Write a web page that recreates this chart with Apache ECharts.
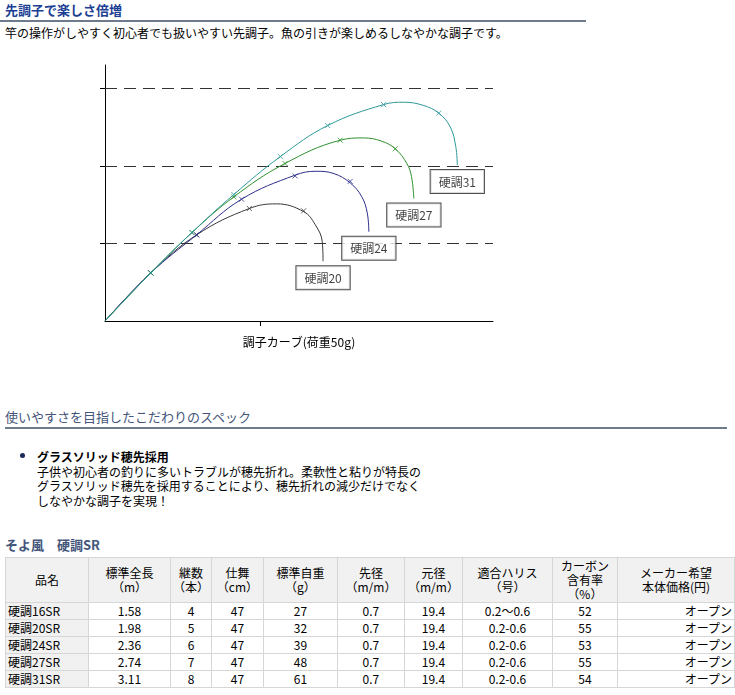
<!DOCTYPE html>
<html>
<head>
<meta charset="utf-8">
<script src="https://cdn.jsdelivr.net/npm/echarts@6/dist/echarts.min.js"></script>
<style>
  body { margin: 0; background: #fff; font-family: "Noto Sans CJK JP", sans-serif; font-size: 12px; color: #000; }
  .abs { position: absolute; white-space: nowrap; }
  #chart { position: absolute; left: 0; top: 0; width: 735px; height: 370px; }
  .h1 { left: 5px; top: 2px; font-size: 13px; font-weight: bold; color: #1c3f94; line-height: 16px; }
  .rule { height: 2px; background: #6d7b8d; }
  .h2 { font-size: 13px; color: #44557a; line-height: 16px; }
  table { position: absolute; left: 5px; top: 557px; border-collapse: collapse; table-layout: fixed; font-size: 12px; }
  td, th { border: 1px solid #d6d6d6; padding: 0 2px; font-weight: normal; }
  th { background: #f1f1f1; height: 44px; line-height: 14px; text-align: center; }
  td { height: 16px; line-height: 16px; text-align: center; }
  td.nm { text-align: left; background: #f1f1f1; }
  td.pr { text-align: right; }
</style>
</head>
<body>
<div class="abs h1">先調子で楽しさ倍増</div>
<div class="abs rule" style="left:0;top:20px;width:586px;"></div>
<div class="abs" style="left:5px;top:25px;line-height:16px;">竿の操作がしやすく初心者でも扱いやすい先調子。魚の引きが楽しめるしなやかな調子です。</div>

<div id="chart"></div>

<div class="abs h2" style="left:5px;top:409px;">使いやすさを目指したこだわりのスペック</div>
<div class="abs rule" style="left:5px;top:427px;width:722px;"></div>

<div class="abs" style="left:20px;top:453px;width:5px;height:5px;border-radius:3px;background:#1c2a5a;"></div>
<div class="abs" style="left:37px;top:450px;line-height:14.5px;">
  <b>グラスソリッド穂先採用</b><br>
  子供や初心者の釣りに多いトラブルが穂先折れ。柔軟性と粘りが特長の<br>
  グラスソリッド穂先を採用することにより、穂先折れの減少だけでなく<br>
  しなやかな調子を実現！
</div>

<div class="abs h2" style="left:5px;top:537px;font-weight:bold;">そよ風　硬調SR</div>
<table id="spec">
  <colgroup>
    <col style="width:83px"><col style="width:82px"><col style="width:34px"><col style="width:52px"><col style="width:74px">
    <col style="width:67px"><col style="width:58px"><col style="width:90px"><col style="width:65px"><col style="width:117px">
  </colgroup>
</table>

<script>
// curve points (x, y in grid units, 1 unit = one dashed-line step)
var curve20 = [[0, 0], [0.59, 0.62], [1.18, 1.11], [1.86, 1.45], [2.21, 1.51], [2.56, 1.41], [2.71, 1.24], [2.80, 1.02], [2.81, 0.77]];
var curve24 = [[0, 0], [0.59, 0.62], [1.18, 1.11], [1.76, 1.57], [2.45, 1.88], [2.72, 1.93], [2.95, 1.90], [3.16, 1.78], [3.31, 1.60], [3.38, 1.39], [3.40, 1.15]];
var curve27 = [[0, 0], [0.59, 0.62], [1.12, 1.14], [1.66, 1.60], [2.30, 2.02], [3.03, 2.33], [3.33, 2.36], [3.56, 2.32], [3.74, 2.22], [3.89, 2.03], [3.95, 1.86], [3.98, 1.58]];
var curve31 = [[0, 0], [0.59, 0.62], [1.12, 1.14], [1.66, 1.63], [2.26, 2.12], [2.87, 2.52], [3.59, 2.79], [3.85, 2.82], [4.10, 2.78], [4.30, 2.68], [4.45, 2.50], [4.52, 2.25], [4.54, 2.01]];

// x marks along each curve
var marks20 = [[0.59, 0.62], [1.18, 1.11], [1.86, 1.45], [2.56, 1.42]];
var marks24 = [[0.59, 0.62], [1.18, 1.11], [1.76, 1.57], [2.45, 1.87], [3.16, 1.80]];
var marks27 = [[0.59, 0.62], [1.12, 1.14], [1.66, 1.60], [2.32, 2.03], [3.03, 2.33], [3.74, 2.22]];
var marks31 = [[0.59, 0.62], [1.12, 1.14], [1.66, 1.63], [2.26, 2.12], [2.87, 2.52], [3.59, 2.79], [4.30, 2.68]];

var curveNames = ['硬調20', '硬調24', '硬調27', '硬調31'];
var curveColors = ['#3a3a3a', '#2e2e8a', '#2f8f2f', '#2e9898'];
var gridLevels = [1, 2, 3];
var xTicks = [2];
var xName = '調子カーブ(荷重50g)';

// spec table
var specHead = ['品名', '標準全長<br>（m）', '継数<br>（本）', '仕舞<br>（cm）', '標準自重<br>（g）', '先径<br>（m/m）', '元径<br>（m/m）', '適合ハリス<br>（号）', 'カーボン<br>含有率<br>（%）', 'メーカー希望<br>本体価格(円)'];
var specName = ['硬調16SR', '硬調20SR', '硬調24SR', '硬調27SR', '硬調31SR'];
var specLength = ['1.58', '1.98', '2.36', '2.74', '3.11'];
var specPieces = ['4', '5', '6', '7', '8'];
var specClosed = ['47', '47', '47', '47', '47'];
var specWeight = ['27', '32', '39', '48', '61'];
var specTip = ['0.7', '0.7', '0.7', '0.7', '0.7'];
var specButt = ['19.4', '19.4', '19.4', '19.4', '19.4'];
var specLine = ['0.2〜0.6', '0.2-0.6', '0.2-0.6', '0.2-0.6', '0.2-0.6'];
var specCarbon = ['52', '55', '53', '55', '54'];
var specPrice = ['オープン', 'オープン', 'オープン', 'オープン', 'オープン'];

var tbl = document.getElementById('spec');
var html = '<tr>' + specHead.map(function (h) { return '<th>' + h + '</th>'; }).join('') + '</tr>';
specName.forEach(function (n, i) {
    html += '<tr><td class="nm">' + n + '</td><td>' + specLength[i] + '</td><td>' + specPieces[i] + '</td><td>' + specClosed[i] +
        '</td><td>' + specWeight[i] + '</td><td>' + specTip[i] + '</td><td>' + specButt[i] + '</td><td>' + specLine[i] +
        '</td><td>' + specCarbon[i] + '</td><td class="pr">' + specPrice[i] + '</td></tr>';
});
tbl.insertAdjacentHTML('beforeend', html);

var curves = [curve20, curve24, curve27, curve31];
var marks = [marks20, marks24, marks27, marks31];

var chart = echarts.init(document.getElementById('chart'));

var series = [];
curves.forEach(function (c, i) {
    series.push({
        type: 'line',
        name: curveNames[i],
        data: c,
        smooth: 0.4,
        showSymbol: false,
        z: 3 + i,
        lineStyle: { color: curveColors[i], width: 1 },
        markLine: i === 0 ? {
            silent: true,
            symbol: 'none',
            label: { show: false },
            lineStyle: { color: '#333', width: 1.2, type: [12, 7] },
            data: gridLevels.map(function (v) { return { yAxis: v }; })
        } : undefined
    });
    series.push({
        type: 'scatter',
        data: marks[i],
        symbol: 'path://M0,0L8,8M8,0L0,8',
        symbolSize: 5,
        z: 3 + i,
        itemStyle: { color: 'none', borderColor: curveColors[i], borderWidth: 1 }
    });
});

// boxed names under the end of each curve
series.push({
    type: 'scatter',
    symbolSize: 0,
    z: 10,
    data: curves.map(function (c, i) { return { value: c[c.length - 1], name: curveNames[i] }; }),
    label: {
        show: true,
        position: 'bottom',
        distance: 5,
        formatter: '{b}',
        fontFamily: 'Noto Sans CJK JP',
        fontSize: 12,
        color: '#111',
        lineHeight: 14,
        align: 'center',
        padding: [5, 8, 4, 8],
        backgroundColor: '#fff',
        borderColor: '#222',
        borderWidth: 1
    }
});

chart.setOption({
    animation: false,
    grid: { left: 105, top: 65, width: 388, height: 256 },
    xAxis: {
        type: 'value',
        min: 0,
        max: 5,
        name: xName,
        nameLocation: 'middle',
        nameGap: 15,
        nameTextStyle: { fontFamily: 'Noto Sans CJK JP', fontSize: 12, color: '#000' },
        axisLine: { lineStyle: { color: '#000', width: 1 } },
        axisTick: { show: true, customValues: xTicks, length: 5, lineStyle: { color: '#000' } },
        axisLabel: { show: false },
        splitLine: { show: false }
    },
    yAxis: {
        type: 'value',
        min: 0,
        max: 3.3,
        axisLine: { show: true, lineStyle: { color: '#000', width: 1 } },
        axisTick: { show: true, customValues: gridLevels, length: 5, lineStyle: { color: '#000' } },
        axisLabel: { show: false },
        splitLine: { show: false }
    },
    series: series
});
</script>
</body>
</html>
